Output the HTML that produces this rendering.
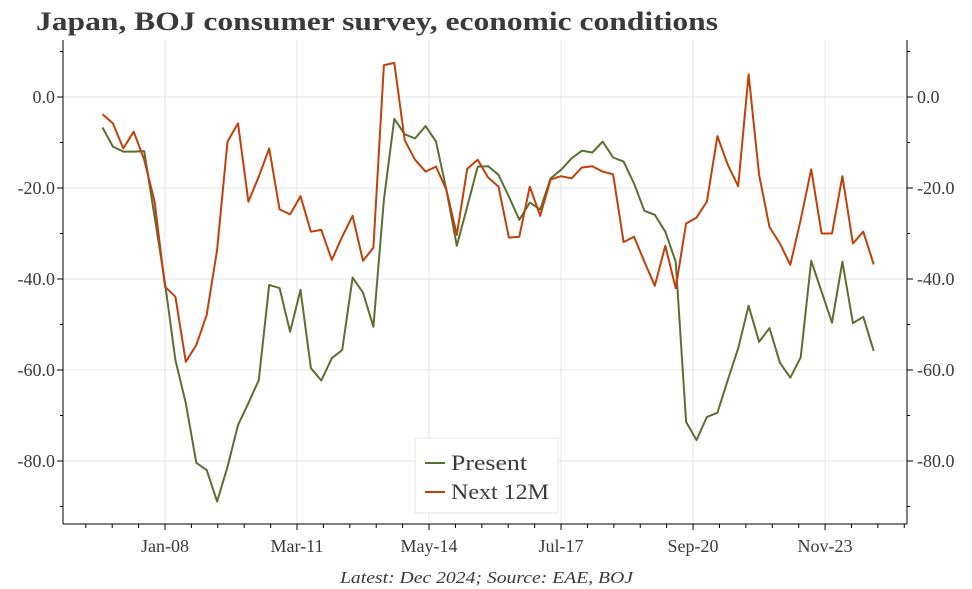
<!DOCTYPE html>
<html><head><meta charset="utf-8"><style>
body{margin:0;background:#fff;}
svg{display:block;font-family:"Liberation Serif",serif;}
</style></head><body>
<svg id="chart" width="972" height="589" viewBox="0 0 972 589" xmlns="http://www.w3.org/2000/svg">
<text x="36" y="30" font-size="26" font-weight="bold" fill="#3a3a3a" textLength="682" lengthAdjust="spacingAndGlyphs">Japan, BOJ consumer survey, economic conditions</text>
<g id="grid"></g>
<g id="axes"></g>
<g id="series"></g>
<g>
<rect x="415" y="438" width="143" height="75" fill="#fff" stroke="#e6e6e6"/>
<line x1="425" y1="463" x2="445" y2="463" stroke="#5a7030" stroke-width="2"/>
<text x="451" y="470" font-size="22" fill="#3a3a3a" textLength="76" lengthAdjust="spacingAndGlyphs">Present</text>
<line x1="425" y1="492" x2="445" y2="492" stroke="#c0400a" stroke-width="2"/>
<text x="451" y="499" font-size="22" fill="#3a3a3a" textLength="98" lengthAdjust="spacingAndGlyphs">Next 12M</text>
</g>
<text x="340" y="583" font-size="17" font-style="italic" fill="#3a3a3a" textLength="293" lengthAdjust="spacingAndGlyphs">Latest: Dec 2024; Source: EAE, BOJ</text>
</svg>
<script>
const startMonth = 6; // months after Jan-06 for first point (Jun-06 quarter end)
const present = [-6.7,-10.9,-12.0,-12.0,-11.9,-26.3,-40.9,-57.8,-67.3,-80.4,-82.0,-88.9,-81.3,-72.1,-67.3,-62.2,-41.3,-42.0,-51.6,-42.4,-59.6,
-62.3,-57.4,-55.6,-39.7,-43.0,-50.5,-22.6,-4.8,-8.2,-9.1,-6.4,-9.8,-20.4,-32.7,-24.1,-15.3,-15.2,-17.1,-21.9,-27.0,
-23.2,-24.7,-17.9,-16.0,-13.5,-11.8,-12.2,-9.8,-13.3,-14.2,-19.0,-25.0,-25.9,-29.6,-36.2,-71.4,-75.4,
-70.3,-69.4,-62.2,-55.2,-45.9,-53.8,-50.8,-58.4,-61.7,-57.2,-36.0,-42.8,-49.6,-36.2,-49.7,-48.3,-55.8];
const next12m = [-3.8,-5.8,-11.3,-7.6,-13.8,-23.0,-41.7,-43.9,-58.2,-54.5,-47.9,-33.6,-9.8,-5.8,-23.0,-17.5,-11.3,-24.7,-25.8,-21.8,-29.6,
-29.2,-35.8,-30.7,-26.1,-36.0,-33.1,7.0,7.5,-9.5,-13.8,-16.4,-15.3,-20.4,-30.3,-15.8,-13.8,-17.7,-19.7,-30.9,-30.7,
-19.7,-26.1,-18.1,-17.4,-17.9,-15.5,-15.2,-16.4,-17.0,-31.9,-30.7,-36.2,-41.5,-32.7,-42.0,-27.8,-26.5,
-23.0,-8.6,-14.9,-19.6,5.0,-17.1,-28.6,-32.2,-36.9,-27.0,-15.9,-30.0,-30.0,-17.4,-32.2,-29.6,-36.8];
const yTicks = [0,-20,-40,-60,-80];
const yTickLabels = ["0.0","-20.0","-40.0","-60.0","-80.0"];
const xTickLabels = ["Jan-08","Mar-11","May-14","Jul-17","Sep-20","Nov-23"];
const xTickMonths = [24,62,100,138,176,214]; // months after Jan-06

const L=63,R=907,T=40,B=524;
const pxPerMonth=3.474, x0=165-24*pxPerMonth;
function xs(m){return x0+m*pxPerMonth;}
function ys(v){return 97-v*4.55;}
const NS="http://www.w3.org/2000/svg";
function mk(tag,attrs,parent){const e=document.createElementNS(NS,tag);for(const k in attrs)e.setAttribute(k,attrs[k]);parent.appendChild(e);return e;}
const grid=document.getElementById('grid'),axes=document.getElementById('axes'),series=document.getElementById('series');
yTicks.forEach((v,i)=>{
  const y=ys(v);
  const g=mk('line',{x1:L,x2:R,y1:y,y2:y,stroke:'#e4e4e4','stroke-width':1},grid);
  
  
  const t1=mk('text',{x:55,y:y+6,'text-anchor':'end','font-size':18,fill:'#3a3a3a'},axes);
  t1.textContent=yTickLabels[i];
  
  
  const t2=mk('text',{x:917,y:y+6,'text-anchor':'start','font-size':18,fill:'#3a3a3a'},axes);
  t2.textContent=yTickLabels[i];
  
  
  mk('line',{x1:L-6,x2:L,y1:y,y2:y,stroke:'#000'},axes);
  mk('line',{x1:R,x2:R+6,y1:y,y2:y,stroke:'#000'},axes);
});
for(let v=10;v>-100;v-=10){const y=ys(v);if(y<T||y>B)continue;
  mk('line',{x1:L-3,x2:L,y1:y,y2:y,stroke:'#000'},axes);
  mk('line',{x1:R,x2:R+3,y1:y,y2:y,stroke:'#000'},axes);}
xTickMonths.forEach((m,i)=>{
  const x=xs(m);
  const g=mk('line',{x1:x,x2:x,y1:T,y2:B,stroke:'#e4e4e4'},grid);
  
  
  mk('line',{x1:x,x2:x,y1:B,y2:B+6,stroke:'#000'},axes);
  const t=mk('text',{x:x,y:B+28,'text-anchor':'middle','font-size':18,fill:'#3a3a3a'},axes);
  t.textContent=xTickLabels[i];
  
  
});
for(let k=-10;k<40;k++){const x=xs(24+k*38/5);if(x<L||x>R||k%5===0)continue;
  mk('line',{x1:x,x2:x,y1:B,y2:B+4,stroke:'#000'},axes);}
mk('line',{x1:L,x2:L,y1:T,y2:B,stroke:'#000'},axes);
mk('line',{x1:R,x2:R,y1:T,y2:B,stroke:'#000'},axes);
mk('line',{x1:L,x2:R,y1:B,y2:B,stroke:'#000'},axes);
function drawLine(arr,color,name){
  const d=arr.map((v,i)=>(i?'L':'M')+xs(startMonth+3*i).toFixed(1)+','+ys(v).toFixed(1)).join('');
  const p=mk('path',{d:d,fill:'none',stroke:color,'stroke-width':2,'stroke-linejoin':'round'},series);
  
  
}
drawLine(present,'#5a7030','present-line');
drawLine(next12m,'#c0400a','next-12m-line');
</script>
</body></html>
